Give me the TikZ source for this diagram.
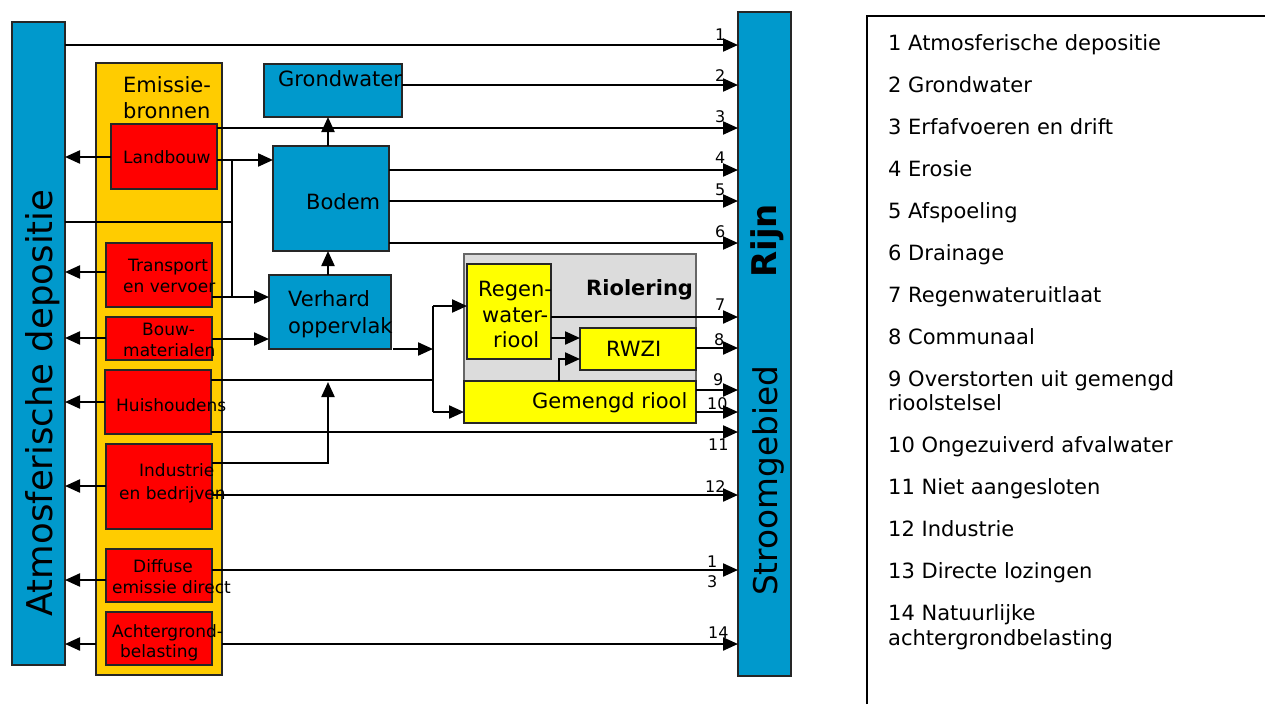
\documentclass[tikz,border=0pt]{standalone}
\usepackage{fontspec}
\setmainfont{DejaVu Sans}
\usetikzlibrary{arrows.meta}
\definecolor{rblue}{RGB}{0,153,204}
\definecolor{rorange}{RGB}{255,204,0}
\definecolor{rred}{RGB}{255,0,0}
\definecolor{ryellow}{RGB}{255,255,0}
\definecolor{rgray}{RGB}{220,220,220}
\newcommand\mkbox[6]{\node[#6, minimum width={(#4)-(#2)}, minimum height={(#5)-(#3)}] (#1) at ({((#2)+(#4))/2},{((#3)+(#5))/2}) {};}
\begin{document}
\begin{tikzpicture}[x=1pt,y=-1pt,
  box/.style={draw=black!85,line width=2.2pt,inner sep=0,outer sep=0},
  bluebox/.style={box,fill=rblue},
  redbox/.style={box,fill=rred},
  yelbox/.style={box,fill=ryellow},
  orbox/.style={box,fill=rorange},
  graybox/.style={draw=black!60,line width=1.6pt,fill=rgray,inner sep=0,outer sep=0},
  ln/.style={line width=2.2pt,black},
  arr/.style={ln,-{Triangle[length=15pt,width=13pt]}},
  txt/.style={inner sep=0,anchor=base west,font=\fontsize{21}{25}\selectfont},
  rtxt/.style={inner sep=0,anchor=base west,font=\fontsize{17}{20}\selectfont},
  num/.style={inner sep=0,anchor=base west,font=\fontsize{16}{19}\selectfont},
  leg/.style={inner sep=0,anchor=base west,font=\fontsize{21}{25}\selectfont},
  big/.style={inner sep=0,anchor=base west,rotate=90},
]
\useasboundingbox (0,0) rectangle (1265,704);
% main bars
\mkbox{atm}{12}{22}{65}{665}{bluebox}
\mkbox{rijn}{738}{12}{791}{676}{bluebox}
\mkbox{emis}{96}{63}{222}{675}{orbox}
% red boxes
\mkbox{land}{111}{124}{217}{189}{redbox}
\mkbox{trans}{106}{243}{212}{307}{redbox}
\mkbox{bouw}{106}{317}{212}{360}{redbox}
\mkbox{huis}{105}{370}{211}{434}{redbox}
\mkbox{ind}{106}{444}{212}{529}{redbox}
\mkbox{diff}{106}{549}{212}{602}{redbox}
\mkbox{acht}{106}{612}{212}{665}{redbox}
% blue boxes
\mkbox{grond}{264}{64}{402}{117}{bluebox}
\mkbox{bodem}{273}{146}{389}{251}{bluebox}
\mkbox{verh}{269}{275}{391}{349}{bluebox}
% riolering
\mkbox{riol}{464}{254}{696}{423}{graybox}
\mkbox{regen}{467}{264}{551}{359}{yelbox}
\mkbox{rwzi}{580}{328}{696}{370}{yelbox}
\mkbox{gem}{464}{381}{696}{423}{yelbox}
% junction coordinates
\coordinate (jl) at (232,160);
\coordinate (jlb) at (232,297);
\coordinate (ja) at (232,222);
\coordinate (jr) at (433,306);
\coordinate (jrb) at (433,412);
\coordinate (jh) at (433,380);
\coordinate (ji) at (328,463);
\coordinate (jiu) at (328,380);
% arrows to the river
\draw[arr] (atm.east |- 0,45) -- (rijn.west |- 0,45);
\draw[arr] (grond.east |- 0,85) -- (rijn.west |- 0,85);
\draw[arr] (land.east |- 0,128) -- (rijn.west |- 0,128);
\draw[arr] (bodem.east |- 0,170) -- (rijn.west |- 0,170);
\draw[arr] (bodem.east |- 0,201) -- (rijn.west |- 0,201);
\draw[arr] (bodem.east |- 0,243) -- (rijn.west |- 0,243);
\draw[arr] (regen.east |- 0,317) -- (rijn.west |- 0,317);
\draw[arr] (rwzi.east |- 0,348) -- (rijn.west |- 0,348);
\draw[arr] (gem.east |- 0,390) -- (rijn.west |- 0,390);
\draw[arr] (gem.east |- 0,412) -- (rijn.west |- 0,412);
\draw[arr] (huis.east |- 0,432) -- (rijn.west |- 0,432);
\draw[arr] (ind.east |- 0,495) -- (rijn.west |- 0,495);
\draw[arr] (diff.east |- 0,570) -- (rijn.west |- 0,570);
\draw[arr] (emis.east |- 0,644) -- (rijn.west |- 0,644);
% arrows to the atmosphere
\draw[arr] (land.west |- 0,157) -- (atm.east |- 0,157);
\draw[arr] (trans.west |- 0,272) -- (atm.east |- 0,272);
\draw[arr] (bouw.west |- 0,338) -- (atm.east |- 0,338);
\draw[arr] (huis.west |- 0,402) -- (atm.east |- 0,402);
\draw[arr] (ind.west |- 0,486) -- (atm.east |- 0,486);
\draw[arr] (diff.west |- 0,580) -- (atm.east |- 0,580);
\draw[arr] (emis.west |- 0,644) -- (atm.east |- 0,644);
% internal flows
\draw[arr] (land.east |- jl) -- (bodem.west |- jl);
\draw[ln] (atm.east |- ja) -- (ja);
\draw[ln] (jl) -- (jlb);
\draw[arr] (trans.east |- jlb) -- (verh.west |- jlb);
\draw[arr] (bouw.east |- 0,339) -- (verh.west |- 0,339);
\draw[arr] (bodem.north -| 328,0) -- (grond.south -| 328,0);
\draw[arr] (verh.north -| 328,0) -- (bodem.south -| 328,0);
\draw[arr] (393,349) -- (jr |- 0,349);
\draw[ln] (jr) -- (jrb);
\draw[arr] (jr) -- (regen.west |- jr);
\draw[arr] (jrb) -- (gem.west |- jrb);
\draw[ln] (huis.east |- jh) -- (jh);
\draw[arr] (ind.east |- ji) -- (ji) -- ([yshift=-2]jiu);
\draw[arr] (regen.east |- 0,338) -- (rwzi.west |- 0,338);
\draw[arr] (gem.north -| 559,0) |- (rwzi.west |- 0,359);
% texts
\node[big,font=\fontsize{35.5}{40}\selectfont] (tatm) at (52,617) {Atmosferische depositie};
\node[big,font=\fontsize{32.7}{38}\selectfont] (tstr) at (777,596) {Stroomgebied};
\node[big,font=\fontsize{34}{38}\selectfont\bfseries] (trijn) at (776,278) {Rijn};
\node[txt] (te1) at (123,92) {Emissie-};
\node[txt] (te2) at (123,118) {bronnen};
\node[txt] (tgr) at (278,86) {Grondwater};
\node[txt] (tbo) at (306,209) {Bodem};
\node[txt] (tv1) at (288,306) {Verhard};
\node[txt] (tv2) at (288,333) {oppervlak};
\node[rtxt] (tl) at (123,163) {Landbouw};
\node[rtxt] (tt1) at (128,271) {Transport};
\node[rtxt] (tt2) at (123,292) {en vervoer};
\node[rtxt] (tb1) at (142,335) {Bouw-};
\node[rtxt] (tb2) at (123,356) {materialen};
\node[rtxt] (th) at (116,411) {Huishoudens};
\node[rtxt] (ti1) at (139,476) {Industrie};
\node[rtxt] (ti2) at (119,499) {en bedrijven};
\node[rtxt] (td1) at (133,572) {Diffuse};
\node[rtxt] (td2) at (112,593) {emissie direct};
\node[rtxt] (ta1) at (112,637) {Achtergrond-};
\node[rtxt] (ta2) at (120,657) {belasting};
\node[txt] (tr1) at (478,296) {Regen-};
\node[txt] (tr2) at (482,322) {water-};
\node[txt] (tr3) at (493,347) {riool};
\node[txt,font=\fontsize{21}{25}\selectfont\bfseries] (triol) at (586,295) {Riolering};
\node[txt] (trw) at (606,356) {RWZI};
\node[txt] (tgem) at (532,408) {Gemengd riool};
% numbers
\node[num] (n1) at (715,40) {1};
\node[num] (n2) at (715,81) {2};
\node[num] (n3) at (715,122) {3};
\node[num] (n4) at (715,163) {4};
\node[num] (n5) at (715,195) {5};
\node[num] (n6) at (715,237) {6};
\node[num] (n7) at (715,310) {7};
\node[num] (n8) at (714,345) {8};
\node[num] (n9) at (713,385) {9};
\node[num] (n10) at (707,409) {10};
\node[num] (n11) at (708,450) {11};
\node[num] (n12) at (705,492) {12};
\node[num] (n13a) at (707,567) {1};
\node[num] (n13b) at (707,587) {3};
\node[num] (n14) at (708,638) {14};
% legend
\coordinate (lgc) at (867,16);
\draw[line width=2pt] (lgc |- 0,704) -- (lgc) -- (1265,16);
\node[leg] (l1) at (888,50) {1 Atmosferische depositie};
\node[leg] (l2) at (888,92) {2 Grondwater};
\node[leg] (l3) at (888,134) {3 Erfafvoeren en drift};
\node[leg] (l4) at (888,176) {4 Erosie};
\node[leg] (l5) at (888,218) {5 Afspoeling};
\node[leg] (l6) at (888,260) {6 Drainage};
\node[leg] (l7) at (888,302) {7 Regenwateruitlaat};
\node[leg] (l8) at (888,344) {8 Communaal};
\node[leg] (l9a) at (888,386) {9 Overstorten uit gemengd};
\node[leg] (l9b) at (888,410) {rioolstelsel};
\node[leg] (l10) at (888,452) {10 Ongezuiverd afvalwater};
\node[leg] (l11) at (888,494) {11 Niet aangesloten};
\node[leg] (l12) at (888,536) {12 Industrie};
\node[leg] (l13) at (888,578) {13 Directe lozingen};
\node[leg] (l14a) at (888,620) {14 Natuurlijke};
\node[leg] (l14b) at (888,645) {achtergrondbelasting};
\end{tikzpicture}
\end{document}
